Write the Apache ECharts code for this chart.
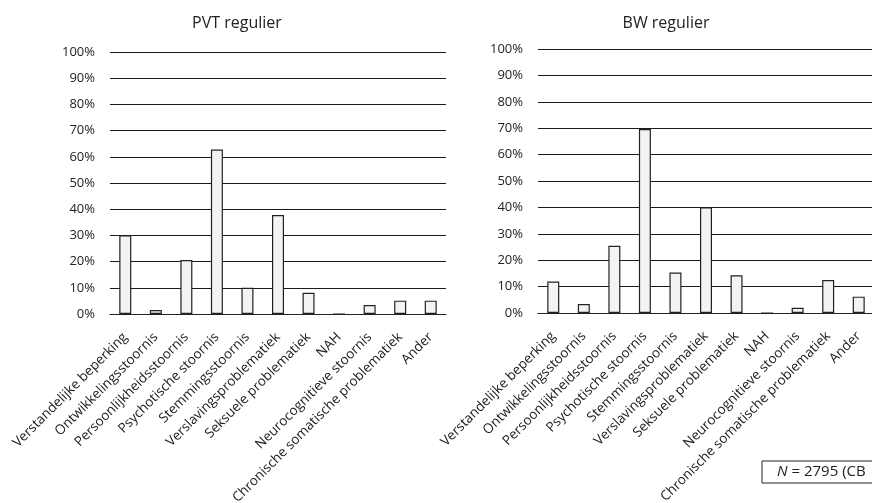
<!DOCTYPE html>
<html>
<head>
<meta charset="utf-8">
<script src="https://cdn.jsdelivr.net/npm/echarts@6/dist/echarts.min.js"></script>
<style>
html,body{margin:0;padding:0;background:#fff;}
#chart{width:872px;height:503px;}
</style>
</head>
<body>
<div id="chart"></div>
<script>
var categories = ["Verstandelijke beperking","Ontwikkelingsstoornis","Persoonlijkheidsstoornis","Psychotische stoornis","Stemmingsstoornis","Verslavingsproblematiek","Seksuele problematiek","NAH","Neurocognitieve stoornis","Chronische somatische problematiek","Ander"];
var pvtValues = [30, 1.5, 20.6, 62.8, 10, 37.8, 8.1, 0, 3.4, 5.1, 5.1];
var bwValues = [11.9, 3.4, 25.5, 69.7, 15.3, 40, 14.3, 0, 2, 12.5, 6.2];
var titles = ["PVT regulier", "BW regulier"];
var noteText = "N = 2795 (CB";

var FONT = "Open Sans";
var chart = echarts.init(document.getElementById('chart'));

function xAxisCfg(gi){
  return {
    type:'category', gridIndex:gi, data:categories,
    axisTick:{show:false},
    axisLine:{show:true, lineStyle:{color:'#222', width:1.2}},
    axisLabel:{rotate:45, interval:0, fontFamily:FONT, fontSize:13.5, color:'#222', margin:21}
  };
}
function yAxisCfg(gi){
  return {
    type:'value', gridIndex:gi, min:0, max:100, interval:10,
    axisLine:{show:false}, axisTick:{show:false},
    axisLabel:{formatter:'{value}%', fontFamily:FONT, fontSize:13, color:'#222', margin:15},
    splitLine:{show:true, lineStyle:{color:'#1a1a1a', width:1.2}}
  };
}
function barSeries(gi, vals){
  return {
    type:'bar', xAxisIndex:gi, yAxisIndex:gi, data:vals, barWidth:12,
    itemStyle:{color:'#f3f3f3', borderColor:'#222', borderWidth:1.2},
    silent:true
  };
}

chart.setOption({
  animation:false,
  backgroundColor:'#fff',
  title:[
    {text:titles[0], left:232, top:10, textAlign:'center', textStyle:{fontFamily:FONT, fontSize:16, fontWeight:'normal', color:'#222'}},
    {text:titles[1], left:661, top:10, textAlign:'center', textStyle:{fontFamily:FONT, fontSize:16, fontWeight:'normal', color:'#222'}}
  ],
  grid:[
    {left:110, right:426, top:52, bottom:189, outerBoundsMode:'none', containLabel:false},
    {left:538, right:-2, top:49, bottom:190, outerBoundsMode:'none', containLabel:false}
  ],
  xAxis:[xAxisCfg(0), xAxisCfg(1)],
  yAxis:[yAxisCfg(0), yAxisCfg(1)],
  series:[barSeries(0, pvtValues), barSeries(1, bwValues)],
  graphic:[
    {type:'rect', shape:{x:762, y:461, width:120, height:22}, style:{fill:'#fff', stroke:'#222', lineWidth:1}},
    {type:'text', x:777, y:472, style:{text:'{i|N} = 2795 (CB', rich:{i:{fontStyle:'italic', fontFamily:FONT, fontSize:15, fill:'#222'}}, fontFamily:FONT, fontSize:15, fill:'#222', verticalAlign:'middle'}}
  ]
});
</script>
</body>
</html>
